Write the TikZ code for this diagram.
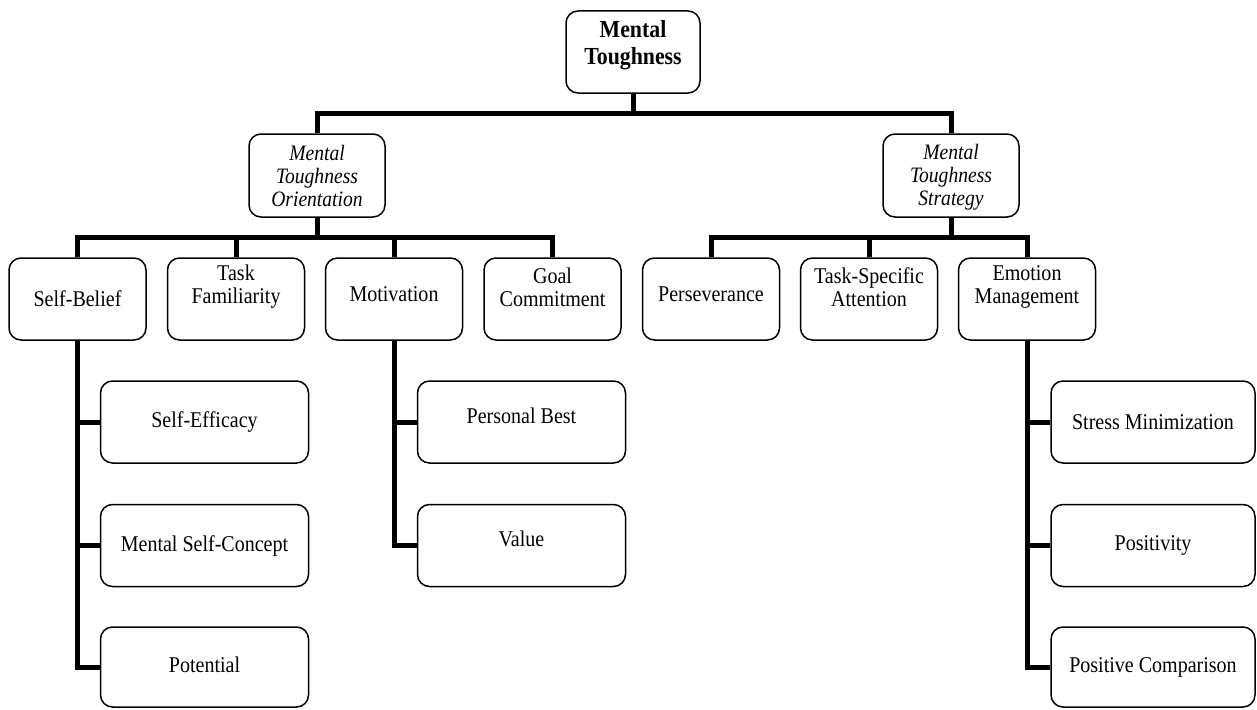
\documentclass[tikz,border=0pt]{standalone}
\usepackage{fontspec}
\setmainfont{Liberation Serif}[FakeStretch=0.89]
\begin{document}
\begin{tikzpicture}[x=1pt,y=-1pt,
  box/.style={draw, line width=1.5pt, rounded corners=12pt, fill=white, inner sep=0pt},
  lbl/.style={align=center, font=\fontsize{22.5}{23}\selectfont, inner sep=0pt},
  conn/.style={line width=5pt, line join=miter},
  midbox/.style={box, minimum width=136pt, minimum height=83pt},
  rowbox/.style={box, minimum width=137pt, minimum height=82pt},
  subbox/.style={box, minimum width=208pt, minimum height=82pt}]
\useasboundingbox (0,0) rectangle (1257,709);

% boxes
\node[box, minimum width=134pt, minimum height=82pt] (mt) at (633,52) {};
\node[midbox] (mto) at (317,175.5) {};
\node[midbox] (mts) at (951,175.5) {};

\node[rowbox] (sb)  at (77.5,299) {};
\node[rowbox] (tf)  at (236,299) {};
\node[rowbox] (mot) at (394,299) {};
\node[rowbox] (gc)  at (552.5,299) {};
\node[rowbox] (per) at (711,299) {};
\node[rowbox] (tsa) at (869,299) {};
\node[rowbox] (em)  at (1027,299) {};

\node[subbox] (se)  at (204.5,422) {};
\node[subbox] (msc) at (204.5,545.5) {};
\node[subbox, minimum height=80pt] (pot) at (204.5,667) {};
\node[subbox] (pb)  at (521.5,422) {};
\node[subbox] (val) at (521.5,545.5) {};
\node[box, minimum width=204pt, minimum height=82pt] (sm)  at (1153,422) {};
\node[box, minimum width=204pt, minimum height=82pt] (pos) at (1153,545.5) {};
\node[box, minimum width=204pt, minimum height=80pt] (pc)  at (1153,667) {};

% connectors
\draw[conn] (mt.south) -- ++(0,20) -| (mto.north);
\draw[conn] (mt.south) -- ++(0,20) -| (mts.north);
\foreach \n in {sb,tf,mot,gc} \draw[conn] (mto.south) -- ++(0,20) -| (\n.north);
\foreach \n in {per,tsa,em} \draw[conn] (mts.south) -- ++(0,20) -| (\n.north);
\foreach \n in {se,msc,pot} \draw[conn] (sb.south) |- (\n.west);
\foreach \n in {pb,val} \draw[conn] (mot.south) |- (\n.west);
\foreach \n in {sm,pos,pc} \draw[conn] (em.south) |- (\n.west);

% labels
\node[lbl, font=\bfseries\fontsize{24.5}{27}\selectfont] (tmt) at ([yshift=7pt]mt.center) {Mental\\Toughness};
\node[lbl, font=\itshape\fontsize{22}{23}\selectfont] (tmto) at (mto.center) {Mental\\Toughness\\Orientation};
\node[lbl, font=\itshape\fontsize{22}{23}\selectfont] (tmts) at ([yshift=-2pt]mts.center) {Mental\\Toughness\\Strategy};

\node[lbl] (tsb)  at (sb.center) {Self-Belief};
\node[lbl] (ttf)  at ([yshift=12pt]tf.center) {Task\\Familiarity};
\node[lbl] (tmot) at ([yshift=5pt]mot.center) {Motivation};
\node[lbl] (tgc)  at ([yshift=12pt]gc.center) {Goal\\Commitment};
\node[lbl] (tper) at ([yshift=5pt]per.center) {Perseverance};
\node[lbl] (ttsa) at ([yshift=12pt]tsa.center) {Task-Specific\\Attention};
\node[lbl] (tem)  at ([yshift=12pt]em.center) {Emotion\\Management};

\node[lbl] (tse)  at (se.center) {Self-Efficacy};
\node[lbl] (tmsc) at (msc.center) {Mental Self-Concept};
\node[lbl] (tpot) at ([yshift=2pt]pot.center) {Potential};
\node[lbl] (tpb)  at ([yshift=6pt]pb.center) {Personal Best};
\node[lbl] (tval) at ([yshift=7pt]val.center) {Value};
\node[lbl] (tsm)  at (sm.center) {Stress Minimization};
\node[lbl] (tpos) at (pos.center) {Positivity};
\node[lbl] (tpc)  at (pc.center) {Positive Comparison};
\end{tikzpicture}
\end{document}
